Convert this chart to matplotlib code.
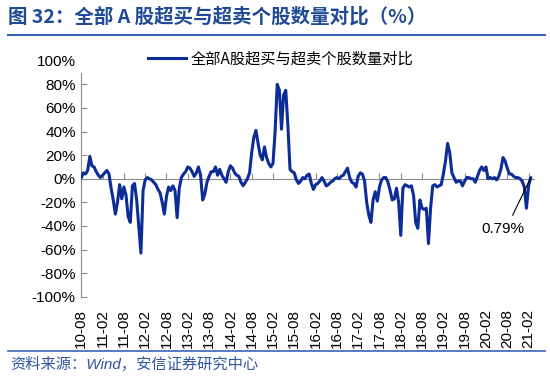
import matplotlib
matplotlib.use("Agg")
import matplotlib.pyplot as plt
from matplotlib.lines import Line2D

plt.rcParams['font.family'] = ['Liberation Sans', 'Noto Sans CJK SC', 'DejaVu Sans']

# weekly-ish samples, 10 points per half-year tick
ratio = [
    1, 5, 4, 7, 19, 11, 10, 6, 3, 1,
    3, 5, 7, 4, -8, -18, -30, -20, -5, -17,
    -7, -14, -32, -37, -6, -4, -18, -40, -63, -10,
    -1, 1, 0, -1, -3, -5, -9, -12, -20, -30,
    -15, -7, -10, -6, -10, -33, -8, 1, 4, 6,
    10, 9, 6, 2, 5, 10, 3, -18, -13, -3,
    2, 6, 6, 10, 3, 8, 3, 0, -3, 6,
    11, 9, 5, 3, 2, -3, -6, -3, 0, 5,
    22, 35, 41, 30, 20, 16, 27, 18, 13, 10,
    13, 40, 80, 75, 42, 71, 75, 45, 8, 6,
    5, -1, -4, -2, 1, 0, 3, 4, -4, -9,
    -5, -4, -2, 1, -2, -6, -5, -3, -2, 0,
    1, 0, 2, 3, 6, 9, 1, -3, -4, -7,
    2, 5, 4, -2, -20, -31, -37, -18, -11, -19,
    -7, -1, 1, 1, -3, -10, -18, -17, -8, -20,
    -48, -8, -5, -6, -7, -6, -14, -37, -42, -18,
    -25, -26, -25, -55, -25, -6, -5, -7, -6, -5,
    4, 15, 30, 22, 5, 1, -3, -2, -2, -6,
    -2, 1, 1, 0, 0, -3, 2, 7, 10, 7,
    10, 0, 1, 0, 1, -1, 2, 8, 18, 15,
    9, 4, 4, 2, 1, 1, 0, -2, -7, -25,
    -6, 0.79,
]
tick_labels = ['10-08', '11-02', '11-08', '12-02', '12-08', '13-02', '13-08',
               '14-02', '14-08', '15-02', '15-08', '16-02', '16-08', '17-02',
               '17-08', '18-02', '18-08', '19-02', '19-08', '20-02', '20-08',
               '21-02']
series_name = '全部A股超买与超卖个股数量对比'

blue_line = '#0c2c98'
title_blue = '#1f4a96'
grey = '#8c8c8c'

fig = plt.figure(figsize=(5.5, 3.83), dpi=100)
ax = fig.add_axes([0.1478, 0.2253, 0.8229, 0.616])

x = list(range(len(ratio)))
ax.plot(x, ratio, color=blue_line, lw=2.2, label=series_name, zorder=3)

ax.set_xlim(0, 212.5)
ax.set_ylim(-100, 100)
yt = list(range(-100, 101, 20))
ax.set_yticks(yt)
ax.set_yticklabels([f'{v}%' for v in yt], fontsize=11)
ax.tick_params(axis='y', direction='in', length=4, color=grey, pad=4)
ax.yaxis.get_major_ticks()[-1].tick1line.set_visible(False)

ax.spines['top'].set_visible(False)
ax.spines['right'].set_visible(False)
ax.spines['left'].set_color(grey)
ax.spines['left'].set_bounds(-100, 90)
ax.spines['bottom'].set_position(('data', 0))
ax.spines['bottom'].set_color(grey)

xt = [i * 10 for i in range(len(tick_labels))]
ax.set_xticks(xt)
ax.set_xticklabels([])
ax.tick_params(axis='x', direction='in', length=4, color=grey)

sec = ax.secondary_xaxis('bottom')
sec.set_xticks(xt)
sec.set_xticklabels(tick_labels, rotation=90, fontsize=11)
sec.tick_params(length=0, pad=9)
sec.spines['bottom'].set_visible(False)

last = len(ratio) - 1
ax.annotate(f'{ratio[-1]:.2f}%', xy=(last, ratio[-1]), xytext=(198, -42.5),
            fontsize=11, ha='center', va='center',
            arrowprops=dict(arrowstyle='-', color='black', lw=0.8,
                            shrinkA=3, shrinkB=0, relpos=(0.65, 1.0)))

ax.legend(loc='center left', bbox_to_anchor=(148 / 550, 1 - 59 / 383),
          bbox_transform=fig.transFigure, frameon=False, borderpad=0,
          borderaxespad=0, handlelength=2.5, handletextpad=0.3,
          prop={'family': ['Noto Sans CJK SC', 'DejaVu Sans'], 'size': 11})

fig.text(8 / 550, 1 - 17 / 383, '图 32：全部 A 股超买与超卖个股数量对比（%）',
         color=title_blue, fontsize=14, fontweight='bold', va='center',
         family=['Noto Sans CJK SC', 'DejaVu Sans'])
fig.add_artist(Line2D([8 / 550, 545 / 550], [1 - 35 / 383] * 2,
                      transform=fig.transFigure, color='#3a63b5', lw=1.5))
fig.add_artist(Line2D([8 / 550, 545 / 550], [1 - 351 / 383] * 2,
                      transform=fig.transFigure, color='#3a63b5', lw=1.2))
fig.text(10 / 550, 1 - 364 / 383, '资料来源：Wind，安信证券研究中心',
         color='#2f55a0', fontsize=11, style='italic', va='center',
         family=['Liberation Sans', 'Noto Sans CJK SC'])

fig.savefig('out.png', dpi=100)
